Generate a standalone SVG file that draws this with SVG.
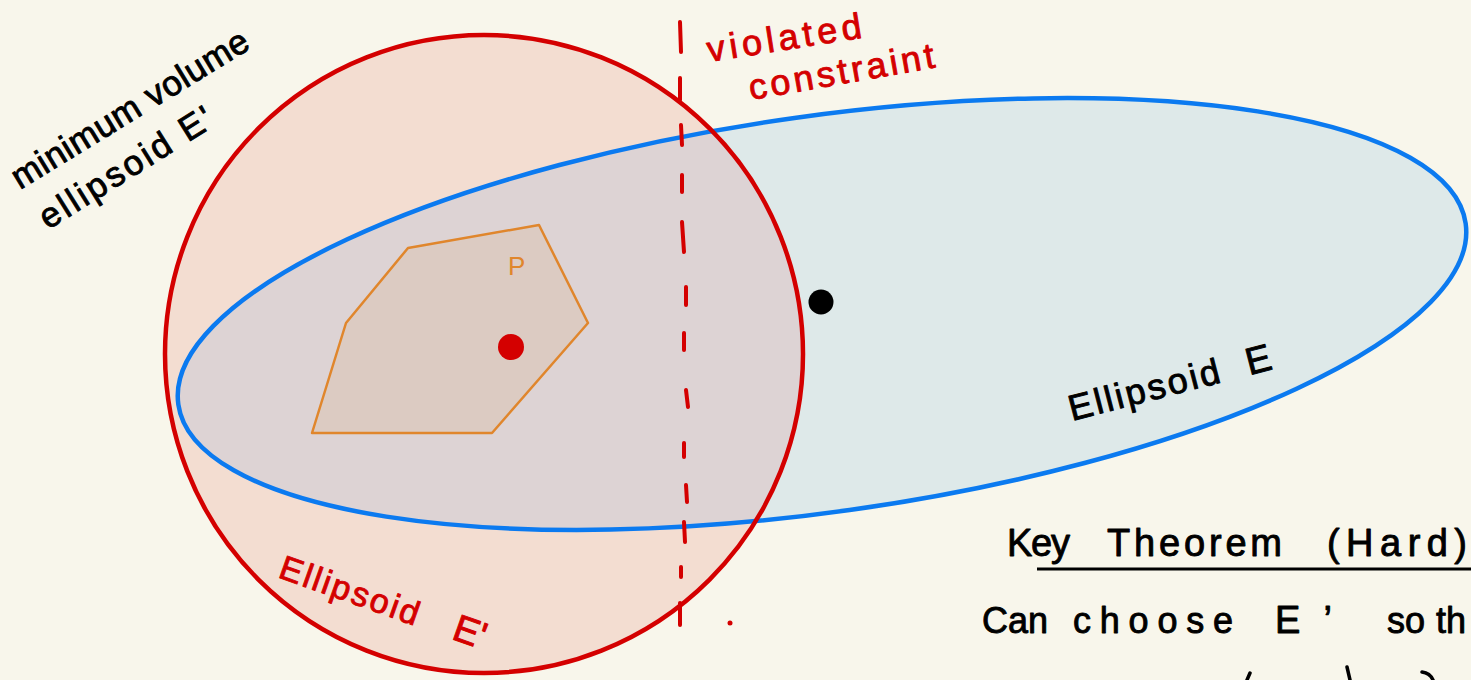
<svg xmlns="http://www.w3.org/2000/svg" width="1471" height="680" viewBox="0 0 1471 680">
  <defs>
    <style>
      .hand { font-family: "Liberation Sans", "DejaVu Sans", sans-serif; stroke-width: 0.9; stroke-linejoin: round; }
      .blk { fill: #000000; stroke: #000000; }
      .red { fill: #d40000; stroke: #d40000; }
      .dash { stroke: #d40000; stroke-width: 4; stroke-linecap: round; fill: none; }
      .frag { stroke: #000; stroke-width: 3.5; stroke-linecap: round; fill: none; }
    </style>
    <clipPath id="circClip">
      <circle cx="484" cy="354" r="319"/>
    </clipPath>
  </defs>

  <rect width="1471" height="680" fill="#f8f6eb"/>

  <g id="ellipsoid-E">
    <ellipse cx="822" cy="314" rx="650" ry="198" transform="rotate(-8 822 314)" fill="#dee9e9"/>
  </g>
  <g id="ellipsoid-E-prime">
    <circle cx="484" cy="354" r="319" fill="#f3ddd1"/>
    <g clip-path="url(#circClip)">
      <ellipse cx="822" cy="314" rx="650" ry="198" transform="rotate(-8 822 314)" fill="#ddd3d4"/>
    </g>
  </g>
  <g id="ellipse-outlines">
    <ellipse cx="822" cy="314" rx="650" ry="198" transform="rotate(-8 822 314)" fill="none" stroke="#0b7af0" stroke-width="4.5"/>
    <circle cx="484" cy="354" r="319" fill="none" stroke="#d40000" stroke-width="4.5"/>
  </g>

  <g id="polytope-P">
    <polygon points="408,248 539,225 588,323 492,433 312,433 346,323" fill="#dccbc2" stroke="#e0862c" stroke-width="2.5" stroke-linejoin="round"/>
    <text x="508" y="275" font-size="26" fill="#e0862c" font-family="Liberation Sans, sans-serif">P</text>
  </g>

  <g id="centers">
    <circle cx="511" cy="347" r="13" fill="#d40000"/>
    <circle cx="821" cy="302" r="12.5" fill="#000"/>
    <circle cx="730" cy="623" r="2.5" fill="#d40000"/>
  </g>

  <g id="violated-constraint-line">
    <path class="dash" d="M680,22 L681,52"/>
    <path class="dash" d="M680,78 L680,100"/>
    <path class="dash" d="M681,125 L682,145"/>
    <path class="dash" d="M682,175 L682,192"/>
    <path class="dash" d="M682,222 L684,252"/>
    <path class="dash" d="M686,287 L686,305"/>
    <path class="dash" d="M684,333 L684,350"/>
    <path class="dash" d="M686,390 L688,407"/>
    <path class="dash" d="M684,443 L684,457"/>
    <path class="dash" d="M686,485 L687,502"/>
    <path class="dash" d="M684,522 L685,542"/>
    <path class="dash" d="M681,567 L681,577"/>
    <path class="dash" d="M680,603 L680,625"/>
  </g>

  <g id="labels">
    <text class="hand blk" font-size="35" textLength="272" lengthAdjust="spacing" transform="translate(20,190) rotate(-31.5)">minimum volume</text>
    <text class="hand blk" font-size="35" textLength="198" lengthAdjust="spacing" transform="translate(48,230) rotate(-32)">ellipsoid E'</text>
    <text class="hand red" font-size="36" textLength="156" lengthAdjust="spacing" transform="translate(709,62) rotate(-9)">violated</text>
    <text class="hand red" font-size="36" textLength="188" lengthAdjust="spacing" transform="translate(751,100) rotate(-10)">constraint</text>
    <g transform="translate(1072,421) rotate(-14.5)">
      <text class="hand blk" font-size="36" x="0" y="0" textLength="155" lengthAdjust="spacing">Ellipsoid</text>
      <text class="hand blk" font-size="38" x="183" y="0">E</text>
    </g>
    <g transform="translate(277,577) rotate(19.5)">
      <text class="hand red" font-size="34" x="0" y="0" textLength="146" lengthAdjust="spacing">Ellipsoid</text>
      <text class="hand red" font-size="38" x="184" y="0">E'</text>
    </g>
  </g>

  <g id="key-theorem">
    <text class="hand blk" font-size="38" x="1007" y="556" textLength="63" lengthAdjust="spacing">Key</text>
    <text class="hand blk" font-size="38" x="1107" y="556" textLength="175" lengthAdjust="spacing">Theorem</text>
    <text class="hand blk" font-size="38" x="1327" y="556" textLength="140" lengthAdjust="spacing">(Hard)</text>
    <line x1="1037" y1="569" x2="1471" y2="569" stroke="#000" stroke-width="3"/>
    <text class="hand blk" font-size="36" x="982" y="633" textLength="66" lengthAdjust="spacing">Can</text>
    <text class="hand blk" font-size="36" x="1073" y="633" textLength="160" lengthAdjust="spacing">choose</text>
    <text class="hand blk" font-size="38" x="1275" y="633" textLength="57" lengthAdjust="spacing">E’</text>
    <text class="hand blk" font-size="36" x="1387" y="633" textLength="38" lengthAdjust="spacing">so</text>
    <text class="hand blk" font-size="36" x="1436" y="633">th</text>
    <path class="frag" d="M1250,673 L1247,680"/>
    <path class="frag" d="M1347,667 L1350,680"/>
    <path class="frag" d="M1422,672 Q1430,673 1433,680"/>
  </g>
</svg>
